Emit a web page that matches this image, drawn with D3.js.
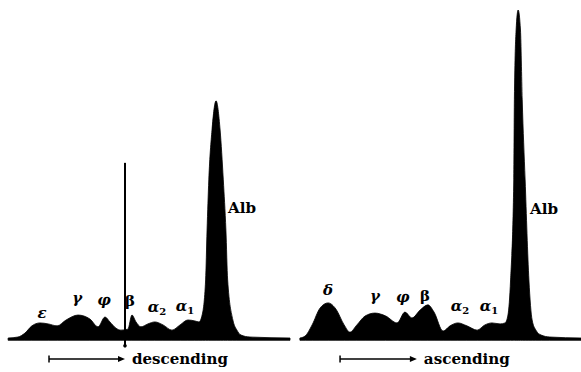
<!DOCTYPE html>
<html>
<head>
<meta charset="utf-8">
<script src="https://cdn.jsdelivr.net/npm/d3@7"></script>
<style>
  body { margin: 0; background: #fff; }
  svg { display: block; }
  text { font-family: "DejaVu Serif", "Liberation Serif", serif; font-weight: bold; fill: #000; }
</style>
</head>
<body>
<div id="chart"></div>
<script>
// Electrophoretic pattern: mobility position (0-100 across the panel) vs. boundary height (relative units)
const descPos = [2.8, 6.2, 8.6, 11.0, 13.8, 16.6, 19.7, 22.8, 26.9, 31.0, 33.8, 36.2, 37.9, 40.0, 41.7, 44.1, 45.5, 46.9, 48.6, 51.0, 53.4, 56.2, 59.3, 62.1, 64.8, 67.2, 68.6, 69.7, 70.9, 71.4, 72.0, 73.1, 74.5, 75.9, 77.0, 77.9, 78.5, 80.3, 81.7, 83.1, 86.2, 100];
const descHeight = [0, 0.3, 1.5, 3.7, 4.6, 4.3, 3.7, 5.5, 7.0, 5.8, 3.4, 6.4, 4.9, 3.0, 2.4, 2.7, 7.0, 4.9, 3.4, 4.3, 4.9, 4.0, 2.4, 4.0, 5.5, 5.2, 4.9, 7.0, 17.7, 32.9, 48.2, 63.4, 72.3, 63.4, 48.2, 32.9, 17.7, 5.5, 2.4, 0.9, 0.3, 0];

const ascPos = [3.4, 5.2, 7.6, 10.3, 13.1, 15.8, 18.6, 20.6, 23.0, 25.8, 29.2, 32.9, 36.8, 39.5, 41.9, 44.7, 47.4, 49.5, 52.6, 55.0, 57.7, 60.8, 64.3, 67.0, 69.4, 72.2, 73.9, 74.9, 75.8, 76.9, 77.1, 77.7, 78.4, 79.2, 79.8, 80.8, 82.1, 83.2, 84.5, 86.3, 89.3, 100];
const ascHeight = [0, 0.6, 4.0, 9.1, 10.7, 8.8, 4.0, 1.8, 4.0, 6.7, 7.6, 6.7, 4.6, 7.9, 6.1, 8.5, 10.1, 7.9, 2.1, 3.7, 4.6, 3.7, 2.4, 4.0, 4.6, 4.3, 4.6, 7.0, 17.7, 48.2, 72.6, 93.9, 100, 93.9, 72.6, 48.2, 17.7, 5.5, 2.4, 0.9, 0.3, 0];

// Boundary labels: [text, subscript, position, height]
const descLabels = [["ε", "", 14.5, 6.1], ["γ", "", 26.6, 10.7], ["φ", "", 35.9, 10.1], ["β", "", 44.8, 9.8], ["α", "2", 54.1, 7.9], ["α", "1", 63.8, 8.2]];
const ascLabels = [["δ", "", 13.1, 13.1], ["γ", "", 29.2, 11.3], ["φ", "", 38.8, 11.0], ["β", "", 46.4, 11.3], ["α", "2", 58.4, 8.2], ["α", "1", 68.4, 8.2]];
const albLabel = ["Alb", "Alb"];
const albPos = [78.6, 82.5];
const albHeight = [38.1, 37.8];

// Starting boundary marker in the descending limb
const startLinePos = 43.1;
const startLineTop = 53.4;
const startLineBottom = -2.4;

// Direction arrows under each pattern
const arrowFrom = [16.9, 17.2];
const arrowTo = [43.1, 43.6];
const arrowHeight = -6.4;
const directionText = ["descending", "ascending"];
const directionWidth = [96, 86];
const textHeight = -7.9;

const W = 581, H = 372;
const svg = d3.select("#chart").append("svg").attr("width", W).attr("height", H);

const y = d3.scaleLinear().domain([0, 100]).range([338, 10]);
const xDesc = d3.scaleLinear().domain([0, 100]).range([0, 290]);
const xAsc = d3.scaleLinear().domain([0, 100]).range([290, 581]);

function drawPattern(x, pos, heights, labels, i) {
  const g = svg.append("g");
  const pts = pos.map((p, k) => [p, heights[k]]);

  const area = d3.area()
    .x((d) => x(d[0]))
    .y0(y(-0.7))
    .y1((d) => y(d[1]))
    .curve(d3.curveMonotoneX);

  g.append("path")
    .datum(pts)
    .attr("d", area)
    .attr("fill", "#000")
    .attr("stroke", "#000")
    .attr("stroke-width", 0.8);

  // peak labels
  labels.forEach(([t, sub, p, h]) => {
    const txt = g.append("text")
      .attr("x", x(p))
      .attr("y", y(h))
      .attr("text-anchor", "middle")
      .style("font-size", "15px")
      .style("font-style", t === "β" ? "normal" : "italic")
      .text(t);
    if (sub) {
      txt.append("tspan")
        .attr("dy", 3)
        .style("font-size", "10px")
        .style("font-style", "normal")
        .text(sub);
    }
  });

  g.append("text")
    .attr("x", x(albPos[i]))
    .attr("y", y(albHeight[i]))
    .attr("textLength", 28)
    .attr("lengthAdjust", "spacingAndGlyphs")
    .style("font-size", "15px")
    .text(albLabel[i]);

  // direction arrow
  const ay = y(arrowHeight);
  const x0 = x(arrowFrom[i]), x1 = x(arrowTo[i]);
  g.append("line")
    .attr("x1", x0).attr("x2", x1 - 5)
    .attr("y1", ay).attr("y2", ay)
    .attr("stroke", "#000").attr("stroke-width", 1.5);
  g.append("line")
    .attr("x1", x0).attr("x2", x0)
    .attr("y1", ay - 3.5).attr("y2", ay + 3.5)
    .attr("stroke", "#000").attr("stroke-width", 1.5);
  g.append("path")
    .attr("d", d3.line()([[x1 - 7, ay - 3], [x1, ay], [x1 - 7, ay + 3]]) + "Z")
    .attr("fill", "#000");

  g.append("text")
    .attr("x", x(arrowTo[i]) + 7)
    .attr("y", y(textHeight))
    .attr("textLength", directionWidth[i])
    .attr("lengthAdjust", "spacingAndGlyphs")
    .style("font-size", "15px")
    .text(directionText[i]);

  return g;
}

const gd = drawPattern(xDesc, descPos, descHeight, descLabels, 0);
drawPattern(xAsc, ascPos, ascHeight, ascLabels, 1);

// starting boundary line of the descending limb
gd.append("line")
  .attr("x1", xDesc(startLinePos)).attr("x2", xDesc(startLinePos))
  .attr("y1", y(startLineTop)).attr("y2", y(startLineBottom))
  .attr("stroke", "#000").attr("stroke-width", 2);
gd.append("circle")
  .attr("cx", xDesc(startLinePos))
  .attr("cy", y(startLineBottom))
  .attr("r", 1.8)
  .attr("fill", "#000");
</script>
</body>
</html>
